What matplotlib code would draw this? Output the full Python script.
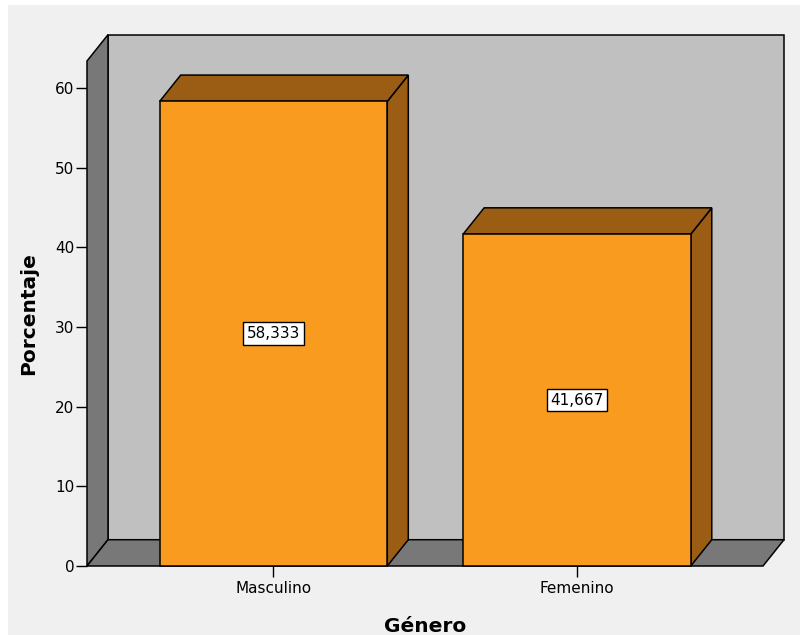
import matplotlib.pyplot as plt
from matplotlib.patches import Polygon, Rectangle

# datos
generos = ['Masculino', 'Femenino']
porcentajes = [58.333, 41.667]
etiquetas = ['58,333', '41,667']
yticks = [0, 10, 20, 30, 40, 50, 60]

naranja = '#f89b1f'
naranja_osc = '#9b5d13'
gris_fondo = '#c0c0c0'
gris_osc = '#787878'

fig = plt.figure(figsize=(8, 6.35), dpi=100, facecolor='white')
# panel gris claro del fondo
fig.patches.append(Rectangle((8 / 800, 0), 1, 630 / 635, transform=fig.transFigure,
                             facecolor='#f0f0f0', edgecolor='none', zorder=-10))

ax = fig.add_axes([87 / 800, 69 / 635, 676 / 800, 505 / 635])

x0, x1 = -0.6145, 1.613
ymax = 63.4
ax.set_xlim(x0, x1)
ax.set_ylim(0, ymax)

# profundidad del efecto 3D (en unidades de datos)
dx, dy = 0.0692, 3.3
ancho = 0.75


def cara(pts, color, z):
    ax.add_patch(Polygon(pts, closed=True, facecolor=color, edgecolor='black',
                         lw=1.1, zorder=z, clip_on=False, joinstyle='miter'))


# pared del fondo, lateral y suelo
cara([(x0 + dx, dy), (x1 + dx, dy), (x1 + dx, ymax + dy), (x0 + dx, ymax + dy)], gris_fondo, 1)
cara([(x0, 0), (x0, ymax), (x0 + dx, ymax + dy), (x0 + dx, dy)], gris_osc, 2)
cara([(x0, 0), (x1, 0), (x1 + dx, dy), (x0 + dx, dy)], gris_osc, 2)

# barras
for i, (v, lab) in enumerate(zip(porcentajes, etiquetas)):
    l, r = i - ancho / 2, i + ancho / 2
    cara([(r, 0), (r + dx, dy), (r + dx, v + dy), (r, v)], naranja_osc, 3)
    cara([(l, v), (r, v), (r + dx, v + dy), (l + dx, v + dy)], naranja_osc, 3)
    cara([(l, 0), (r, 0), (r, v), (l, v)], naranja, 4)
    ax.text(i, v / 2, lab, ha='center', va='center', fontsize=11, zorder=5,
            bbox=dict(boxstyle='square,pad=0.25', fc='white', ec='black', lw=1))

ax.patch.set_visible(False)
for s in ax.spines.values():
    s.set_visible(False)

ax.set_yticks(yticks)
ax.set_xticks(range(len(generos)))
ax.set_xticklabels(generos)
ax.tick_params(axis='y', length=8, width=1, pad=1, labelsize=11, colors='black')
ax.tick_params(axis='x', length=8, width=1, pad=3, labelsize=11)

ax.set_ylabel('Porcentaje', fontsize=14.5, fontweight='bold')
ax.set_xlabel('Género', fontsize=14.5, fontweight='bold')
ax.yaxis.set_label_coords(-0.072, 0.5)
ax.xaxis.set_label_coords(0.5, -0.1)

fig.savefig('out.png', dpi=100, facecolor=fig.get_facecolor())
